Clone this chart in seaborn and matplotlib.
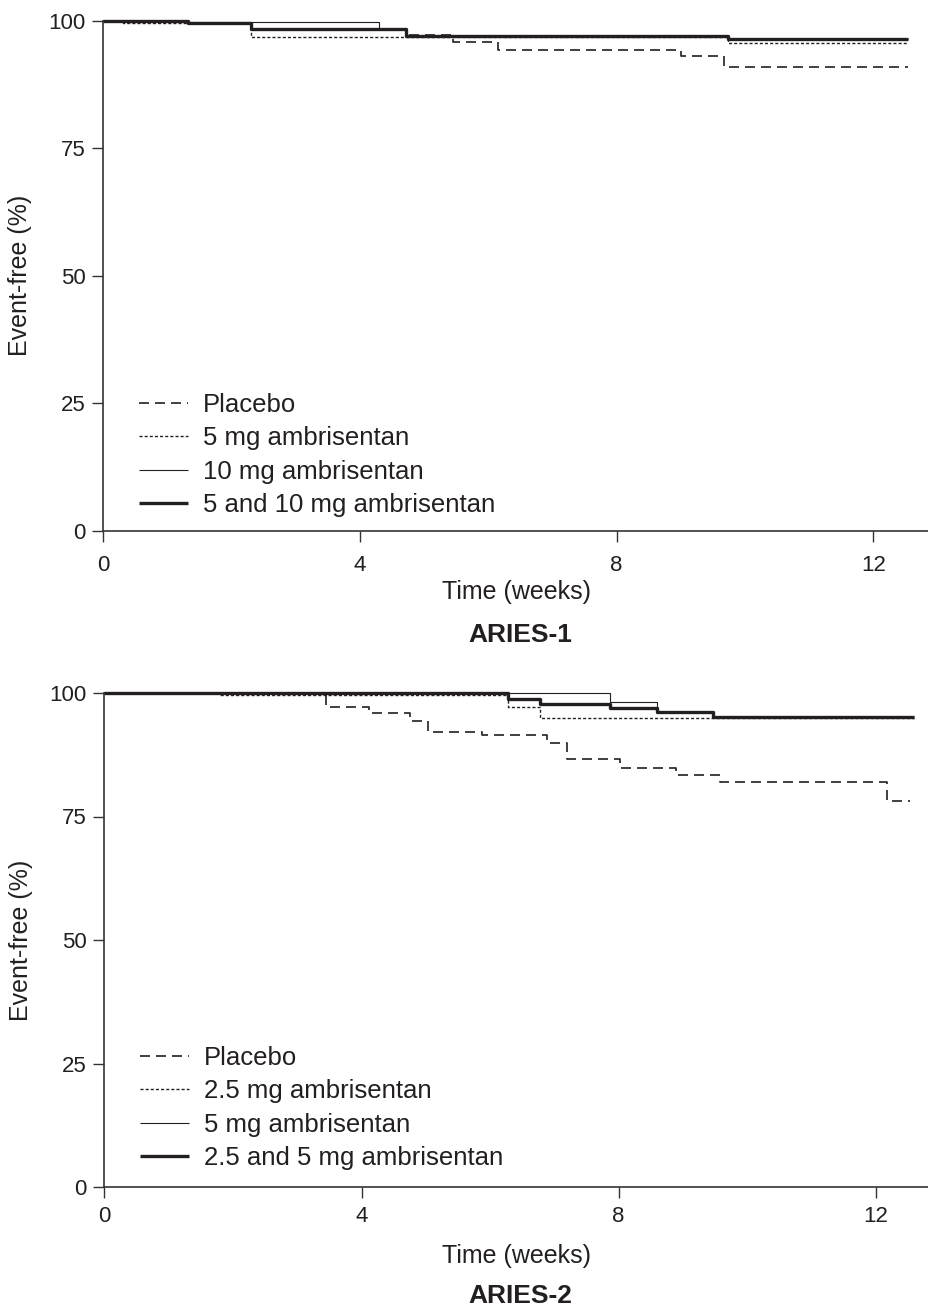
import matplotlib
matplotlib.use("Agg")
import matplotlib.pyplot as plt
import seaborn as sns

# ARIES-1: time (weeks) and event-free (%) for each arm
A1_PLACEBO_T = [0, 1.32, 2.3, 4.71, 5.45, 6.15, 9.0, 9.68, 12.55]
A1_PLACEBO_Y = [100, 99.5, 98.4, 97.1, 95.8, 94.3, 93.0, 90.9, 90.9]
A1_LOW_T = [0, 0.3, 2.3, 9.74, 12.55]
A1_LOW_Y = [100, 99.5, 96.9, 95.6, 95.6]
A1_HIGH_T = [0, 1.32, 4.3, 4.71, 9.74, 12.55]
A1_HIGH_Y = [100, 99.8, 98.4, 97.0, 96.4, 96.4]
A1_BOTH_T = [0, 1.32, 2.3, 4.71, 9.74, 12.55]
A1_BOTH_Y = [100, 99.5, 98.4, 97.0, 96.4, 96.4]
A1_LABELS = ['Placebo', '5 mg ambrisentan', '10 mg ambrisentan', '5 and 10 mg ambrisentan']

# ARIES-2
A2_PLACEBO_T = [0, 3.44, 4.12, 4.75, 5.04, 5.87, 6.88, 7.2, 8.02, 8.9, 9.57, 12.17, 12.53]
A2_PLACEBO_Y = [100, 97.2, 95.9, 94.4, 92.2, 91.5, 89.8, 86.6, 84.9, 83.5, 81.9, 78.2, 78.2]
A2_LOW_T = [0, 1.8, 6.28, 6.77, 12.6]
A2_LOW_Y = [100, 99.6, 97.2, 95.0, 95.0]
A2_HIGH_T = [0, 7.86, 8.6, 9.47, 12.6]
A2_HIGH_Y = [100, 98.2, 96.2, 95.1, 95.1]
A2_BOTH_T = [0, 6.28, 6.77, 7.86, 8.6, 9.47, 12.6]
A2_BOTH_Y = [100, 98.7, 97.8, 96.9, 96.2, 95.1, 95.1]
A2_LABELS = ['Placebo', '2.5 mg ambrisentan', '5 mg ambrisentan', '2.5 and 5 mg ambrisentan']

Y_TICKS = [0, 25, 50, 75, 100]
X_TICKS = [0, 4, 8, 12]

INK = '#231f20'
# linewidth, dash pattern (None = solid)
LINE_STYLES = [(1.2, (6, 3.6)), (1.0, (2.2, 1.5)), (0.8, None), (2.4, None)]

sns.set_style("ticks")
plt.rcParams['font.family'] = ['Liberation Sans', 'DejaVu Sans']
plt.rcParams['text.color'] = INK
plt.rcParams['axes.labelcolor'] = INK
plt.rcParams['xtick.color'] = INK
plt.rcParams['ytick.color'] = INK

W, H = 929, 1313
fig = plt.figure(figsize=(W / 100, H / 100), dpi=100)


def draw_panel(rect, series, labels, xmax, xpad, xlabelpad, leg_y):
    ax = fig.add_axes(rect)
    for (t, y), lab, (lw, dash) in zip(series, labels, LINE_STYLES):
        sns.lineplot(x=t, y=y, ax=ax, drawstyle='steps-post', estimator=None,
                     sort=False, color=INK, lw=lw, label=lab, clip_on=False)
        line = ax.lines[-1]
        if dash is not None:
            line.set_dashes(dash)
        line.set_solid_capstyle('butt')
    ax.set_xlim(0, xmax)
    ax.set_ylim(0, 100)
    ax.set_xticks(X_TICKS)
    ax.set_yticks(Y_TICKS)
    sns.despine(ax=ax)
    for s in ['left', 'bottom']:
        ax.spines[s].set_color('#333333')
        ax.spines[s].set_linewidth(1.2)
    ax.tick_params(axis='both', labelsize=16, length=8, width=1, color='#333333')
    ax.tick_params(axis='x', pad=xpad)
    ax.tick_params(axis='y', pad=5)
    ax.set_xlabel('Time (weeks)', fontsize=18, labelpad=xlabelpad)
    ax.set_ylabel('Event-free (%)', fontsize=18, labelpad=12)
    ax.legend(loc='upper left', bbox_to_anchor=(0.043, leg_y), frameon=False,
              fontsize=18.5, handlelength=1.9, handletextpad=0.6,
              labelspacing=0.36, borderpad=0, borderaxespad=0)
    return ax


top = draw_panel([103.5 / W, 1 - 531 / H, (W - 103.5) / W, (531 - 20.7) / H],
                 [(A1_PLACEBO_T, A1_PLACEBO_Y), (A1_LOW_T, A1_LOW_Y),
                  (A1_HIGH_T, A1_HIGH_Y), (A1_BOTH_T, A1_BOTH_Y)],
                 A1_LABELS, 12.87, 9.5, 2.5, 0.27)
bot = draw_panel([104.5 / W, 1 - 1187 / H, (W - 104.5) / W, (1187 - 693) / H],
                 [(A2_PLACEBO_T, A2_PLACEBO_Y), (A2_LOW_T, A2_LOW_Y),
                  (A2_HIGH_T, A2_HIGH_Y), (A2_BOTH_T, A2_BOTH_Y)],
                 A2_LABELS, 12.83, 6, 12, 0.285)

fig.text(520 / W, 1 - 635 / H, 'ARIES-1', fontsize=19, fontweight='bold',
         ha='center', va='center')
fig.text(520 / W, 1 - 1296 / H, 'ARIES-2', fontsize=19, fontweight='bold',
         ha='center', va='center')

fig.savefig('out.png', dpi=100)
